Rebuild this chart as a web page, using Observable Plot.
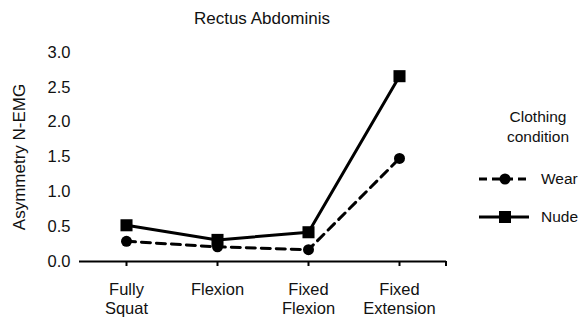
<!DOCTYPE html>
<html><head><meta charset="utf-8">
<script src="https://cdn.jsdelivr.net/npm/d3@7"></script>
<script src="https://cdn.jsdelivr.net/npm/@observablehq/plot@0.6"></script>
<style>
body{margin:0;background:#fff;}
#wrap{position:relative;width:585px;height:320px;font-family:"Liberation Sans",Arial,sans-serif;color:#111;}
#title{position:absolute;left:0;width:524px;top:9px;text-align:center;font-size:17px;line-height:20px;z-index:2;}
</style></head><body><div id="wrap"><div id="title">Rectus Abdominis</div></div>
<script>
const categories = ["Fully Squat", "Flexion", "Fixed Flexion", "Fixed Extension"];
const tickLabels = ["Fully\nSquat", "Flexion", "Fixed\nFlexion", "Fixed\nExtension"];
const wear = [0.29, 0.21, 0.17, 1.48];
const nude = [0.52, 0.31, 0.42, 2.66];
const yTicks = [0, 0.5, 1, 1.5, 2, 2.5, 3];
const seriesNames = ["Wear", "Nude"];
const legendTitle = "Clothing\ncondition";

const rows = [];
categories.forEach((c, i) => {
  rows.push({cat: c, series: "Wear", value: wear[i]});
  rows.push({cat: c, series: "Nude", value: nude[i]});
});
const labelOf = new Map(categories.map((c, i) => [c, tickLabels[i]]));

const endTick = () => (index, scales, values, dim) => {
  const x = dim.width - dim.marginRight;
  const y = dim.height - dim.marginBottom;
  const g = d3.create("svg:g");
  g.append("line").attr("x1", x).attr("x2", x).attr("y1", y).attr("y2", y + 5)
    .attr("stroke", "#000").attr("stroke-width", 2);
  return g.node();
};

const chart = Plot.plot({
  width: 585, height: 320,
  marginLeft: 79, marginRight: 139, marginTop: 52, marginBottom: 59,
  style: {fontFamily: "'Liberation Sans', Arial, sans-serif", fontSize: "16.5px", color: "#111", background: "#fff", position: "absolute", left: "0", top: "0"},
  x: {type: "point", domain: categories, padding: 0.5},
  y: {domain: [0, 3]},
  marks: [
    Plot.axisY({ticks: yTicks, tickSize: 0, tickPadding: 9, tickFormat: d => d.toFixed(1),
      label: null, fontSize: 16.5}),
    Plot.axisY({ticks: [], tickSize: 0, label: "Asymmetry N-EMG", labelAnchor: "center", labelOffset: 67,
      labelArrow: "none", fontSize: 17}),
    Plot.axisX({tickSize: 5, tickPadding: 15, tickFormat: d => labelOf.get(d), label: null,
      lineHeight: 1.15, fontSize: 16.5, stroke: "#000", strokeWidth: 2}),
    Plot.ruleY([0], {stroke: "#000", strokeWidth: 2}),
    Plot.ruleX([0], {frameAnchor: "left", y1: 0, y2: 3, stroke: "#000", strokeWidth: 2}),
    Plot.line(rows.filter(d => d.series === "Wear"), {x: "cat", y: "value", stroke: "#000", strokeWidth: 3, strokeDasharray: "9,6"}),
    Plot.line(rows.filter(d => d.series === "Nude"), {x: "cat", y: "value", stroke: "#000", strokeWidth: 3}),
    Plot.dot(rows.filter(d => d.series === "Wear"), {x: "cat", y: "value", r: 5.5, fill: "#000", symbol: "circle"}),
    Plot.dot(rows.filter(d => d.series === "Nude"), {x: "cat", y: "value", r: 6.8, fill: "#000", symbol: "square"}),
    endTick()
  ]
});
document.getElementById("wrap").appendChild(chart);

// Legend
const svg = d3.select(chart);
const lg = svg.append("g").attr("font-size", 15.5).attr("fill", "#111");
legendTitle.split("\n").forEach((t, i) => {
  lg.append("text").attr("x", 538).attr("y", 117 + i * 20).attr("dy", "0.35em")
    .attr("text-anchor", "middle").text(t);
});
seriesNames.forEach((s, i) => {
  const y = 179 + i * 38;
  lg.append("line").attr("x1", 479).attr("x2", 529).attr("y1", y).attr("y2", y)
    .attr("stroke", "#000").attr("stroke-width", 3).attr("stroke-dasharray", s === "Wear" ? "8,5" : null);
  if (s === "Wear") lg.append("circle").attr("cx", 505).attr("cy", y).attr("r", 5.5).attr("fill", "#000");
  else lg.append("rect").attr("x", 499).attr("y", y - 6).attr("width", 12).attr("height", 12).attr("fill", "#000");
  lg.append("text").attr("x", 541).attr("y", y).attr("dy", "0.35em").attr("text-anchor", "start").text(s);
});
</script></body></html>
